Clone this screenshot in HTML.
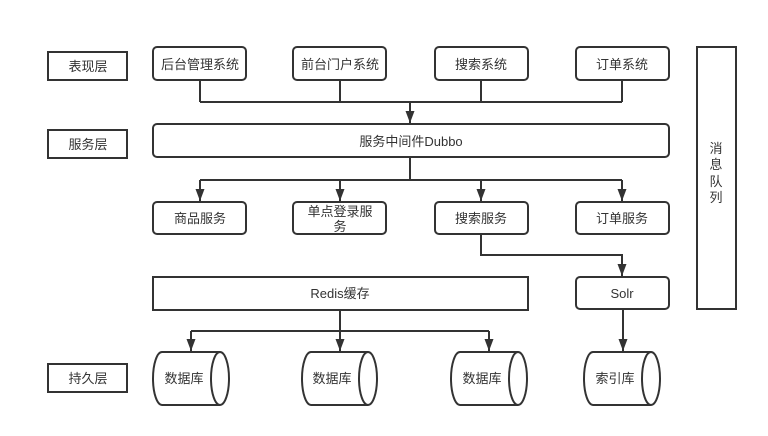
<!DOCTYPE html>
<html><head><meta charset="utf-8"><style>
html,body{margin:0;padding:0;background:#fff;}
svg{display:block;}
text{font-family:"Liberation Sans","Noto Sans CJK SC",sans-serif;font-size:13px;fill:#333;}
</style></head><body>
<svg width="768" height="436" viewBox="0 0 768 436" xmlns="http://www.w3.org/2000/svg">
<defs><marker id="a" markerWidth="12" markerHeight="9" refX="12" refY="4.5" orient="auto" markerUnits="userSpaceOnUse" viewBox="0 0 12 9"><path d="M0,0 L12,4.5 L0,9 Z" fill="#333"/></marker></defs>
<g fill="#fff" stroke="#333" stroke-width="2">
<rect x="48" y="52" width="79" height="28"/>
<rect x="48" y="130" width="79" height="28"/>
<rect x="48" y="364" width="79" height="28"/>
<rect x="153" y="47" width="93" height="33" rx="4"/>
<rect x="293" y="47" width="93" height="33" rx="4"/>
<rect x="435" y="47" width="93" height="33" rx="4"/>
<rect x="576" y="47" width="93" height="33" rx="4"/>
<rect x="153" y="124" width="516" height="33" rx="4"/>
<rect x="153" y="202" width="93" height="32" rx="4"/>
<rect x="293" y="202" width="93" height="32" rx="4"/>
<rect x="435" y="202" width="93" height="32" rx="4"/>
<rect x="576" y="202" width="93" height="32" rx="4"/>
<rect x="153" y="277" width="375" height="33"/>
<rect x="576" y="277" width="93" height="32" rx="4"/>
<rect x="697" y="47" width="39" height="262"/>
</g>
<g fill="none" stroke="#333" stroke-width="2">
<path d="M200 80V102M340 80V102M481 80V102M622 80V102M200 102H622"/>
<path d="M410 102V123" marker-end="url(#a)"/>
<path d="M410 157V180M200 180H622"/>
<path d="M200 180V201" marker-end="url(#a)"/><path d="M340 180V201" marker-end="url(#a)"/><path d="M481 180V201" marker-end="url(#a)"/><path d="M622 180V201" marker-end="url(#a)"/>
<path d="M481 234V255H622V276" marker-end="url(#a)"/>
<path d="M340 310V351" marker-end="url(#a)"/>
<path d="M191 331H489"/>
<path d="M191 331V351" marker-end="url(#a)"/>
<path d="M489 331V351" marker-end="url(#a)"/>
<path d="M623 309V351" marker-end="url(#a)"/>
</g>
<g fill="#fff" stroke="#333" stroke-width="2">
<path d="M220 352H162A9 26.5 0 0 0 162 405H220"/><ellipse cx="220" cy="378.5" rx="9" ry="26.5"/>
<path d="M368 352H311A9 26.5 0 0 0 311 405H368"/><ellipse cx="368" cy="378.5" rx="9" ry="26.5"/>
<path d="M518 352H460A9 26.5 0 0 0 460 405H518"/><ellipse cx="518" cy="378.5" rx="9" ry="26.5"/>
<path d="M651 352H593A9 26.5 0 0 0 593 405H651"/><ellipse cx="651" cy="378.5" rx="9" ry="26.5"/>
</g>
<g text-anchor="middle">
<text x="88" y="71">表现层</text>
<text x="88" y="149">服务层</text>
<text x="88" y="383">持久层</text>
<text x="200" y="69">后台管理系统</text>
<text x="340" y="69">前台门户系统</text>
<text x="481" y="69">搜索系统</text>
<text x="622" y="69">订单系统</text>
<text x="411" y="146">服务中间件Dubbo</text>
<text x="200" y="223">商品服务</text>
<text x="340" y="216">单点登录服</text>
<text x="340" y="231">务</text>
<text x="481" y="223">搜索服务</text>
<text x="622" y="223">订单服务</text>
<text x="340" y="298">Redis缓存</text>
<text x="622" y="298">Solr</text>
<text x="184" y="383">数据库</text>
<text x="332" y="383">数据库</text>
<text x="482" y="383">数据库</text>
<text x="615" y="383">索引库</text>
<text x="716" y="153">消</text>
<text x="716" y="169">息</text>
<text x="716" y="186">队</text>
<text x="716" y="202">列</text>
</g>
</svg>
</body></html>
